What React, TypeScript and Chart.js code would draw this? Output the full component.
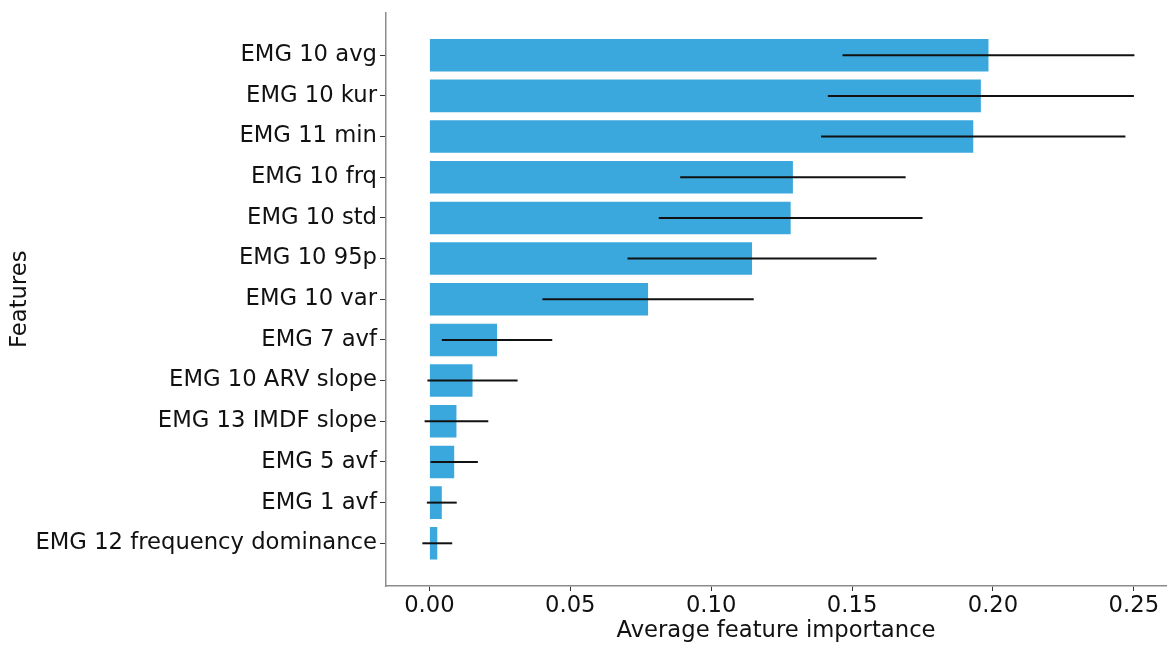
import React, { useEffect, useRef } from "react";
import { Chart, registerables } from "chart.js";

Chart.register(...registerables);

const featureLabels = [
  "EMG 10 avg",
  "EMG 10 kur",
  "EMG 11 min",
  "EMG 10 frq",
  "EMG 10 std",
  "EMG 10 95p",
  "EMG 10 var",
  "EMG 7 avf",
  "EMG 10 ARV slope",
  "EMG 13 IMDF slope",
  "EMG 5 avf",
  "EMG 1 avf",
  "EMG 12 frequency dominance",
];
const importance = [0.1984, 0.1957, 0.193, 0.129, 0.1282, 0.1145, 0.0776, 0.024, 0.0153, 0.0096, 0.0088, 0.0044, 0.0028];
const errors = [0.0518, 0.0543, 0.054, 0.04, 0.0468, 0.0442, 0.0375, 0.0196, 0.016, 0.0113, 0.0084, 0.0053, 0.0053];
const xTicks = [0, 0.05, 0.1, 0.15, 0.2, 0.25];

const FONT = "'DejaVu Sans', sans-serif";
const FS = 22.7;

const errorBarPlugin = {
  id: "errorBars",
  afterDatasetsDraw(chart: any) {
    const xs = chart.scales.x;
    const ys = chart.scales.y;
    const ctx = chart.ctx;
    ctx.save();
    ctx.strokeStyle = "#111";
    ctx.lineWidth = 2;
    importance.forEach((v, i) => {
      const y = ys.getPixelForValue(i);
      ctx.beginPath();
      ctx.moveTo(xs.getPixelForValue(v - errors[i]), y);
      ctx.lineTo(xs.getPixelForValue(v + errors[i]), y);
      ctx.stroke();
    });
    ctx.restore();
  },
};

export default function App() {
  const ref = useRef<HTMLCanvasElement | null>(null);
  useEffect(() => {
    if (!ref.current) return;
    const chart = new Chart(ref.current, {
      type: "bar",
      data: {
        datasets: [
          {
            data: importance.map((v, i) => ({ x: v, y: i })),
            backgroundColor: "#3AA8DC",
            borderWidth: 0,
            barPercentage: 0.8,
            categoryPercentage: 1,
          },
        ],
      },
      plugins: [errorBarPlugin],
      options: {
        animation: false,
        responsive: true,
        maintainAspectRatio: false,
        indexAxis: "y",
        layout: { padding: { top: 12.5, right: 1, left: 0, bottom: 0 } },
        plugins: { legend: { display: false }, tooltip: { enabled: false } },
        scales: {
          x: {
            type: "linear",
            min: -0.0154,
            max: 0.2614,
            offset: false,
            afterBuildTicks: (s: any) => {
              s.ticks = xTicks.map((v) => ({ value: v }));
            },
            afterFit: (s: any) => {
              s.height = 60;
              s.paddingLeft = 0;
              s.paddingRight = 0;
            },
            ticks: {
              font: { family: FONT, size: FS },
              color: "#111",
              padding: 1,
              maxRotation: 0,
              callback: (v: any) => Number(v).toFixed(2),
            },
            grid: { offset: false, drawOnChartArea: false, drawTicks: true, tickLength: 5, tickColor: "#333" },
            border: { display: true, color: "#8c8c8c", width: 1.5 },
            title: {
              display: true,
              text: "Average feature importance",
              font: { family: FONT, size: FS },
              color: "#111",
              padding: { top: 0, bottom: 1 },
            },
          },
          y: {
            type: "linear",
            reverse: true,
            min: -1.05,
            max: 13.05,
            offset: false,
            afterBuildTicks: (s: any) => {
              s.ticks = featureLabels.map((_, i) => ({ value: i }));
            },
            afterFit: (s: any) => {
              s.width = 386;
              s.paddingTop = 0;
              s.paddingBottom = 0;
            },
            ticks: {
              font: { family: FONT, size: FS },
              color: "#111",
              padding: 3,
              autoSkip: false,
              callback: (v: any) => featureLabels[v as number] ?? "",
            },
            grid: { offset: false, drawOnChartArea: false, drawTicks: true, tickLength: 6, tickColor: "#333" },
            border: { display: true, color: "#8c8c8c", width: 1.5 },
            title: {
              display: true,
              text: "Features",
              font: { family: FONT, size: FS },
              color: "#111",
              padding: { top: 6, bottom: 0 },
            },
          },
        },
      },
    } as any);
    return () => chart.destroy();
  }, []);
  return (
    <div style={{ position: "absolute", left: 0, top: 0, width: 1167, height: 646, background: "#fff" }}>
      <canvas ref={ref} />
    </div>
  );
}
